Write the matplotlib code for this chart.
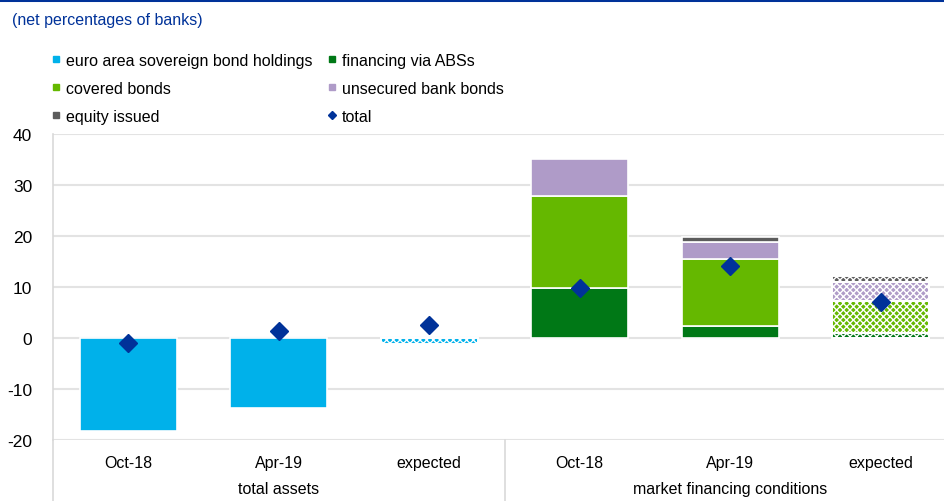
import matplotlib
matplotlib.use("Agg")
import matplotlib.pyplot as plt
from matplotlib.lines import Line2D
import numpy as np

plt.rcParams['font.family'] = ['Liberation Sans', 'DejaVu Sans']
plt.rcParams['axes.unicode_minus'] = False
plt.rcParams['hatch.linewidth'] = 1.0

# Categories
periods = ["Oct-18", "Apr-19", "expected", "Oct-18", "Apr-19", "expected"]
groups = ["total assets", "market financing conditions"]
expected_flags = [False, False, True, False, False, True]

# Series (net percentages of banks)
sovereign = [-18.2, -13.7, -1.2, 0.0, 0.0, 0.0]
abs_fin = [0.0, 0.0, 0.0, 9.7, 2.4, 1.0]
covered = [0.0, 0.0, 0.0, 18.1, 13.1, 6.3]
unsecured = [0.0, 0.0, 0.0, 7.2, 3.2, 3.7]
equity = [0.0, 0.0, 0.0, 0.0, 1.0, 1.2]
total = [-1.0, 1.4, 2.5, 9.7, 14.0, 7.1]

C_SOV = "#00B1EA"
C_ABS = "#007816"
C_COV = "#65B800"
C_UNS = "#AF9BC8"
C_EQU = "#5C5C5C"
C_TOT = "#003299"
GRID = "#E3E3E3"

fig = plt.figure(figsize=(9.44, 5.02), dpi=100)
W, H = 944, 502
ax = fig.add_axes([53 / W, (H - 441) / H, 903 / W, (441 - 134.7) / H])

x = np.arange(len(periods))
width = 0.645


def draw_stack(values, bottoms, color):
    for i, (v, b) in enumerate(zip(values, bottoms)):
        if v == 0:
            continue
        ax.bar(x[i], v, width, bottom=b, color=color, edgecolor="white",
               linewidth=1.2, zorder=2)
        if expected_flags[i]:
            ax.bar(x[i], v, width, bottom=b, facecolor="none",
                   edgecolor="white", hatch="xxxxx", linewidth=0, zorder=3)
            ax.bar(x[i], v, width, bottom=b, facecolor="none",
                   edgecolor="white", linewidth=1.2, zorder=3)


draw_stack(sovereign, [0] * 6, C_SOV)
bottom = np.zeros(6)
for vals, col in [(abs_fin, C_ABS), (covered, C_COV), (unsecured, C_UNS), (equity, C_EQU)]:
    draw_stack(vals, bottom.copy(), col)
    bottom += np.array(vals)

ax.plot(x, total, linestyle="none", marker="D", markersize=9,
        color=C_TOT, zorder=5)

ax.set_xlim(-0.5, 5.5)
ax.set_ylim(-20, 40)
ax.set_yticks([-20, -10, 0, 10, 20, 30, 40])
ax.yaxis.grid(True, color=GRID, linewidth=1.5, zorder=0)
ax.set_axisbelow(True)
for s in ["top", "right", "bottom"]:
    ax.spines[s].set_visible(False)
ax.spines["left"].set_color("#D9D9D9")
ax.spines["left"].set_linewidth(1.2)
ax.tick_params(axis="y", length=0, pad=15, labelsize=12.5)
ax.set_xticks(x)
ax.set_xticklabels(periods)
ax.tick_params(axis="x", length=0, pad=11, labelsize=11.5)

# category separators below the plot
sep = -(502 - 441) / (441 - 134.7)
ax.plot([0, 0], [0, sep], transform=ax.transAxes, color="#D9D9D9",
        linewidth=1.2, clip_on=False)
ax.plot([0.5, 0.5], [0, sep], transform=ax.transAxes, color="#D9D9D9",
        linewidth=1.2, clip_on=False)
trans = matplotlib.transforms.blended_transform_factory(ax.transData, ax.transAxes)
ax.text(1, -49 / 306.3, groups[0], transform=trans, ha="center", va="center", fontsize=11.5)
ax.text(4, -49 / 306.3, groups[1], transform=trans, ha="center", va="center", fontsize=11.5)

# header rule and subtitle
fig.add_artist(Line2D([0, 1], [1 - 1.2 / H, 1 - 1.2 / H], color=C_TOT, linewidth=2.2))
fig.text(12 / W, 1 - 20 / H, "(net percentages of banks)", color=C_TOT,
         fontsize=11.5, va="center", ha="left")

# legend
def sq(c):
    return Line2D([], [], linestyle="none", marker="s", markersize=5, color=c)

handles = [sq(C_SOV), sq(C_COV), sq(C_EQU), sq(C_ABS), sq(C_UNS),
           Line2D([], [], linestyle="none", marker="D", markersize=4.5, color=C_TOT)]
labels = ["euro area sovereign bond holdings", "covered bonds", "equity issued",
          "financing via ABSs", "unsecured bank bonds", "total"]
fig.legend(handles, labels, ncol=2, loc="upper left",
           bbox_to_anchor=(52 / W, 1 - 54 / H), frameon=False, fontsize=11.5,
           handlelength=0.5, handletextpad=0.35, columnspacing=1.0,
           labelspacing=0.8, borderpad=0, borderaxespad=0)

fig.savefig("out.png", dpi=100)
